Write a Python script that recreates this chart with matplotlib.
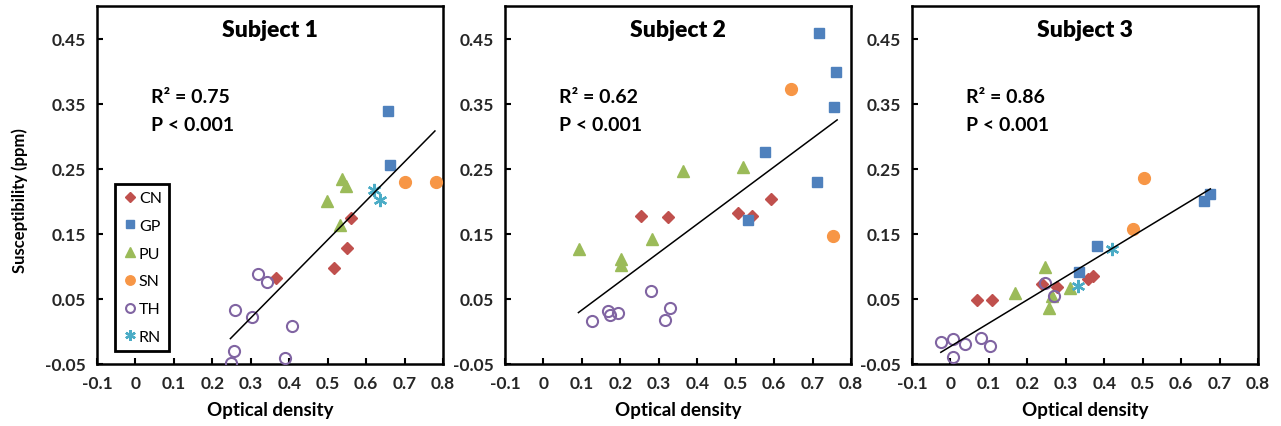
import matplotlib
matplotlib.use('Agg')
import matplotlib.pyplot as plt

# ── Data ───────────────────────────────────────────────
groups = ['CN', 'GP', 'PU', 'SN', 'TH', 'RN']

s1 = {
    'CN': ([0.365, 0.517, 0.549, 0.560], [0.082, 0.098, 0.128, 0.174]),
    'GP': ([0.657, 0.661], [0.339, 0.256]),
    'PU': ([0.497, 0.538, 0.547, 0.533], [0.201, 0.234, 0.224, 0.163]),
    'SN': ([0.700, 0.783], [0.230, 0.230]),
    'TH': ([0.319, 0.341, 0.260, 0.302, 0.406, 0.256, 0.248, 0.390],
           [0.088, 0.076, 0.033, 0.022, 0.009, -0.030, -0.048, -0.041]),
    'RN': ([0.620, 0.635], [0.217, 0.202]),
}
s2 = {
    'CN': ([0.253, 0.325, 0.506, 0.542, 0.592], [0.177, 0.176, 0.182, 0.177, 0.203]),
    'GP': ([0.716, 0.762, 0.755, 0.575, 0.712, 0.532], [0.458, 0.398, 0.345, 0.276, 0.229, 0.171]),
    'PU': ([0.093, 0.201, 0.201, 0.282, 0.362, 0.519], [0.126, 0.112, 0.102, 0.142, 0.247, 0.252]),
    'SN': ([0.644, 0.753], [0.373, 0.146]),
    'TH': ([0.126, 0.167, 0.173, 0.195, 0.280, 0.317, 0.330],
           [0.016, 0.032, 0.025, 0.029, 0.062, 0.018, 0.036]),
    'RN': ([], []),
}
s3 = {
    'CN': ([0.069, 0.109, 0.239, 0.276, 0.358, 0.371], [0.048, 0.048, 0.073, 0.068, 0.081, 0.085]),
    'GP': ([0.334, 0.381, 0.659, 0.676], [0.092, 0.132, 0.200, 0.211]),
    'PU': ([0.169, 0.245, 0.256, 0.310, 0.265], [0.059, 0.099, 0.036, 0.067, 0.055]),
    'SN': ([0.503, 0.475], [0.236, 0.157]),
    'TH': ([-0.025, 0.007, 0.037, 0.007, 0.079, 0.102, 0.245, 0.269],
           [-0.016, -0.011, -0.020, -0.039, -0.010, -0.023, 0.074, 0.055]),
    'RN': ([0.420, 0.332], [0.126, 0.070]),
}
subjects = ['Subject 1', 'Subject 2', 'Subject 3']
datasets = [s1, s2, s3]
fit_x = [[0.247, 0.779], [0.091, 0.764], [-0.025, 0.676]]
fit_y = [[-0.011, 0.308], [0.029, 0.325], [-0.032, 0.219]]
r2 = ['0.75', '0.62', '0.86']

xticks = [-0.1, 0, 0.1, 0.2, 0.3, 0.4, 0.5, 0.6, 0.7, 0.8]
xticklabels = ['-0.1', '0', '0.1', '0.2', '0.3', '0.4', '0.5', '0.6', '0.7', '0.8']
yticks = [-0.05, 0.05, 0.15, 0.25, 0.35, 0.45]
yticklabels = ['-0.05', '0.05', '0.15', '0.25', '0.35', '0.45']

# ── Styles ─────────────────────────────────────────────
style = {
    'CN': dict(marker='D', color='#C0504D', ms=6.5, mfc='#C0504D', mec='#C0504D'),
    'GP': dict(marker='s', color='#4F81BD', ms=7.5, mfc='#4F81BD', mec='#4F81BD'),
    'PU': dict(marker='^', color='#9BBB59', ms=8.5, mfc='#9BBB59', mec='#9BBB59'),
    'SN': dict(marker='o', color='#F79646', ms=8.5, mfc='#F79646', mec='#F79646'),
    'TH': dict(marker='o', color='#8064A2', ms=8, mfc='none', mec='#8064A2', mew=1.5),
    'RN': dict(marker=(6, 2, 0), color='#4BACC6', ms=9.5, mec='#4BACC6', mew=1.7),
}

plt.rcParams['font.family'] = ['Lato', 'DejaVu Sans']
plt.rcParams['font.weight'] = 'bold'

fig = plt.figure(figsize=(12.81, 4.27), dpi=100)
lefts = [97 / 1281, 505 / 1281, 912 / 1281]
W, B, H = 346 / 1281, 62 / 427, 358 / 427

for i, (name, d) in enumerate(zip(subjects, datasets)):
    ax = fig.add_axes([lefts[i], B, W, H])
    for g in groups:
        xs, ys = d[g]
        ax.plot(xs, ys, linestyle='none', label=g, zorder=3, **style[g])
    ax.plot(fit_x[i], fit_y[i], color='black', lw=1.1, zorder=4)
    ax.set_xlim(-0.1, 0.8)
    ax.set_ylim(-0.05, 0.5)
    ax.set_xticks(xticks)
    ax.set_xticklabels(xticklabels)
    ax.set_yticks(yticks)
    ax.set_yticklabels(yticklabels)
    ax.tick_params(direction='in', length=4, width=1.5, labelsize=12.5, pad=8)
    for t in ax.get_xticklabels() + ax.get_yticklabels():
        t.set_fontweight('bold')
        t.set_color('#262626')
    for sp in ax.spines.values():
        sp.set_linewidth(1.8)
    ax.text(0.5, 0.935, name, transform=ax.transAxes, ha='center', va='center',
            fontsize=16.5, fontweight='heavy')
    ax.text(0.155, 0.746, 'R\u00b2 = ' + r2[i], transform=ax.transAxes, ha='left',
            va='center', fontsize=14, fontweight='bold')
    ax.text(0.155, 0.670, 'P < 0.001', transform=ax.transAxes, ha='left',
            va='center', fontsize=14, fontweight='bold')
    ax.set_xlabel('Optical density', fontsize=13.5, fontweight='bold', labelpad=7)
    if i == 0:
        ax.set_ylabel('Susceptibility (ppm)', fontsize=12, fontweight='bold')
        ax.yaxis.set_label_coords(-0.2, 0.458)
        leg = ax.legend(loc='lower left', bbox_to_anchor=(0.052, 0.036), fontsize=11.5,
                        labelspacing=0.85, handletextpad=0.05, handlelength=1.0,
                        borderpad=0.45, borderaxespad=0, fancybox=False,
                        framealpha=1, markerscale=0.8)
        leg.get_frame().set_edgecolor('black')
        leg.get_frame().set_linewidth(2)
        for t in leg.get_texts():
            t.set_fontweight('normal')

fig.savefig('out.png', dpi=100)
